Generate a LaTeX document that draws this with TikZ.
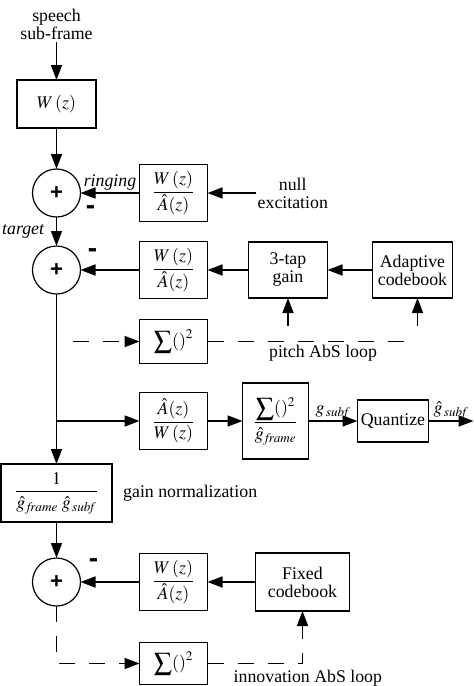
\documentclass[tikz,border=0pt]{standalone}
\usepackage{amsmath}
\usepackage{mathptmx}
\usepackage[no-math]{fontspec}
\setmainfont{Liberation Serif}
\setsansfont{Liberation Sans}
\usetikzlibrary{shapes,arrows.meta,positioning}

\begin{document}
\begin{tikzpicture}[
    x=1pt, y=-1pt,
    font=\fontsize{17.8}{18}\selectfont,
    box/.style={draw, line width=1.8pt, minimum width=68pt, minimum height=57pt, inner sep=1pt, outer sep=0pt, align=center},
    sumnode/.style={draw, circle, line width=1.2pt, minimum size=48pt, inner sep=0pt, outer sep=0pt, font=\sffamily\bfseries\fontsize{22}{22}\selectfont},
    lbl/.style={align=center, inner sep=2pt},
    sgn/.style={inner sep=0pt, font=\sffamily\bfseries\fontsize{28}{28}\selectfont},
    arrow/.style={-{Triangle[length=15pt,width=11pt]}, line width=1.6pt},
    loopline/.style={line width=1.2pt, dash pattern=on 16pt off 14pt}
]
    \useasboundingbox (0,0) rectangle (474,686);

    % target computation
    \node[box, minimum width=79pt, minimum height=48pt] (wz) at (56.5,104) {$W\,(z)$};
    \node[lbl, above=38pt of wz] (speech) {speech\\sub-frame};
    \node[sumnode, below=41pt of wz] (add1) {+};
    \node[box, right=59pt of add1] (ring) {$\dfrac{W\,(z)}{\hat{A}(z)}$};
    \node[lbl, right=48pt of ring] (null) {null\\excitation};
    \node[sgn] (m1) at ([xshift=10pt,yshift=-17pt]add1.east) {-};

    % pitch search
    \node[sumnode, below=29pt of add1] (add2) {+};
    \node[box, right=59pt of add2] (wa2) {$\dfrac{W\,(z)}{\hat{A}(z)}$};
    \node[box, right=41pt of wa2, minimum width=79pt, minimum height=56pt] (tap) {3-tap\\gain};
    \node[box, right=45pt of tap, minimum width=80pt, minimum height=56pt] (acb) {Adaptive\\codebook};
    \node[box, below=21pt of wa2, minimum height=44pt] (sq1) {$\displaystyle\sum()^2$};
    \node[sgn] (m2) at ([xshift=12pt,yshift=17pt]add2.east) {-};

    % gain estimation
    \node[box, below=29pt of sq1] (aw) {$\dfrac{\hat{A}(z)}{W\,(z)}$};
    \node[box, right=35pt of aw, minimum width=66pt, minimum height=76pt, line width=1.2pt] (norm) {$\dfrac{\displaystyle\sum()^2}{\hat{g}_{\,\mathit{frame}}}$};
    \node[box, right=49pt of norm, minimum width=71pt, minimum height=42pt] (quant) {Quantize};
    \node[box, below=170pt of add2, minimum width=111pt, minimum height=58pt] (gain) {$\dfrac{1}{\hat{g}_{\,\mathit{frame}}\;\hat{g}_{\,\mathit{subf}}}$};
    \node[lbl, right=9pt of gain] (gainlbl) {gain normalization};

    % innovation search
    \node[sumnode, below=36pt of gain] (add3) {+};
    \node[box, right=59pt of add3] (wa3) {$\dfrac{W\,(z)}{\hat{A}(z)}$};
    \node[box, right=48pt of wa3, minimum width=94pt, minimum height=58pt, line width=1.2pt] (fcb) {Fixed\\codebook};
    \node[box, below=32pt of wa3, minimum height=42pt] (sq2) {$\displaystyle\sum()^2$};
    \node[sgn] (m3) at ([xshift=13pt,yshift=19pt]add3.east) {-};
    \node[lbl, below right=4pt and 24pt of sq2.east] (innolbl) {innovation AbS loop};

    \coordinate (a0) at ([yshift=-28pt]tap.south);
    \coordinate (a1) at ([xshift=5pt,yshift=-28pt]acb.south);
    \coordinate (p0) at ([xshift=-67pt]sq1.west);
    \coordinate (p1) at (a1 |- sq1.east);
    \coordinate (br) at (add2 |- aw.west);
    \coordinate (out) at ([xshift=45pt]quant.east);
    \coordinate (c0) at (add3 |- sq2.west);
    \coordinate (c1) at (fcb |- sq2.east);

    \draw[arrow] (speech) -- (wz);
    \draw[arrow] (wz) -- (add1);
    \draw[arrow] (null) -- (ring);
    \draw[arrow] (ring) -- node[above, inner sep=2pt] (ringlbl) {\textit{ringing}} (add1);
    \draw[arrow] (add1) -- node[left=8pt] (tgt) {\textit{target}} (add2);
    \draw[arrow] (acb) -- (tap);
    \draw[arrow] (tap) -- (wa2);
    \draw[arrow] (wa2) -- (add2);
    \draw[arrow] (a0) -- (tap);
    \draw[arrow] (a1) -- (a1 |- acb.south);
    \draw[loopline, arrow] (p0) -- (sq1);
    \draw[loopline] (sq1) -- node[below, pos=0.55] (pitchlbl) {pitch AbS loop} (p1);
    \draw[arrow] (add2) -- (gain);
    \draw[arrow] (br) -- (aw);
    \draw[arrow] (aw) -- (norm);
    \draw[arrow] (norm) -- node[above, inner sep=1pt] (gs) {$g_{\,\mathit{subf}}$} (quant);
    \draw[arrow] (quant) -- node[above, inner sep=1pt] (gq) {$\hat{g}_{\,\mathit{subf}}$} (out);
    \draw[arrow] (gain) -- (add3);
    \draw[arrow] (fcb) -- (wa3);
    \draw[arrow] (wa3) -- (add3);
    \draw[loopline, arrow] (add3) -- (c0) -- (sq2);
    \draw[loopline, arrow] (sq2) -- (c1) -- (fcb);
\end{tikzpicture}
\end{document}
